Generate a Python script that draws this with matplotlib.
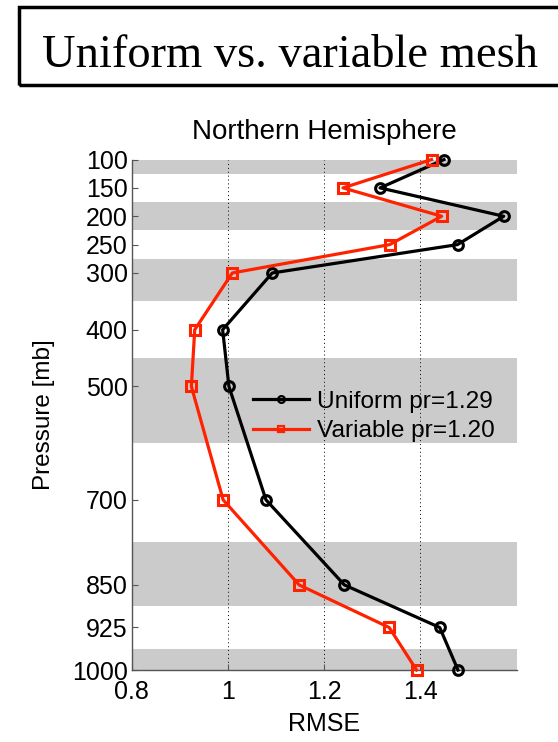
import numpy as np
import matplotlib
matplotlib.use("Agg")
import matplotlib.pyplot as plt
from matplotlib.patches import Rectangle

plt.rcParams['font.family'] = ['Liberation Sans', 'DejaVu Sans']

# niveaux de pression et erreurs quadratiques moyennes
levels = [100, 150, 200, 250, 300, 400, 500, 700, 850, 925, 1000]
rmse_uniform = [1.449, 1.316, 1.573, 1.477, 1.092, 0.989, 1.002, 1.079, 1.242, 1.440, 1.478]
rmse_variable = [1.423, 1.239, 1.444, 1.336, 1.009, 0.931, 0.924, 0.990, 1.148, 1.335, 1.392]
label_uniform = "Uniform pr=1.29"
label_variable = "Variable pr=1.20"
xticks = [0.8, 1, 1.2, 1.4]

red = "#ff2200"

fig = plt.figure(figsize=(5.58, 7.42), dpi=100)
ax = fig.add_axes([0.236, 0.097, 0.690, 0.688])

# bandes grises une couche sur deux
lv = np.array(levels, dtype=float)
mids = (lv[:-1] + lv[1:]) / 2
lower = np.concatenate([[lv[0]], mids])
upper = np.concatenate([mids, [lv[-1]]])
for i in range(0, len(levels), 2):
    ax.axhspan(lower[i], upper[i], color="#cbcbcb", lw=0, zorder=0)

for x in xticks[1:]:
    ax.axvline(x, color="k", lw=0.7, ls=(0, (1, 3)), zorder=1)

ax.plot(rmse_uniform, levels, "-o", color="k", lw=2.3, ms=7, mew=2.2,
        mfc="none", label=label_uniform, zorder=3, clip_on=False)
ax.plot(rmse_variable, levels, "-s", color=red, lw=2.3, ms=7, mew=2.2,
        mfc="none", label=label_variable, zorder=3, clip_on=False)

ax.set_xlim(0.8, 1.6)
ax.set_ylim(1000, 100)
ax.set_xticks(xticks)
ax.set_xticklabels(["0.8", "1", "1.2", "1.4"])
ax.set_yticks(levels)
ax.tick_params(direction="in", labelsize=18, length=4, color="#555555")
ax.tick_params(axis="y", pad=3)
ax.tick_params(axis="x", pad=7)
for side in ["top", "right"]:
    ax.spines[side].set_visible(False)
for side in ["left", "bottom"]:
    ax.spines[side].set_color("#555555")
    ax.spines[side].set_linewidth(1)

ax.set_xlabel("RMSE", fontsize=18, labelpad=6)
ax.set_ylabel("Pressure [mb]", fontsize=17.5, labelpad=12)
ax.set_title("Northern Hemisphere", fontsize=20, pad=15)

leg = ax.legend(loc="center left", bbox_to_anchor=(0.315, 0.497), frameon=False,
                fontsize=17.6, handlelength=2.3, handletextpad=0.3, labelspacing=0.3,
                borderpad=0, borderaxespad=0, markerscale=0.7)
for h in leg.legend_handles:
    h.set_markeredgewidth(1.6)

# titre encadré en haut
fig.add_artist(Rectangle((19 / 558, 1 - 85 / 742), 600 / 558, 78 / 742,
                         transform=fig.transFigure, fill=False, ec="k", lw=2.5))
fig.text(42 / 558, 1 - 67 / 742, "Uniform vs. variable mesh", fontsize=33.5,
         family=["Liberation Serif", "DejaVu Serif"], ha="left", va="baseline")

fig.savefig("out.png", dpi=100)
